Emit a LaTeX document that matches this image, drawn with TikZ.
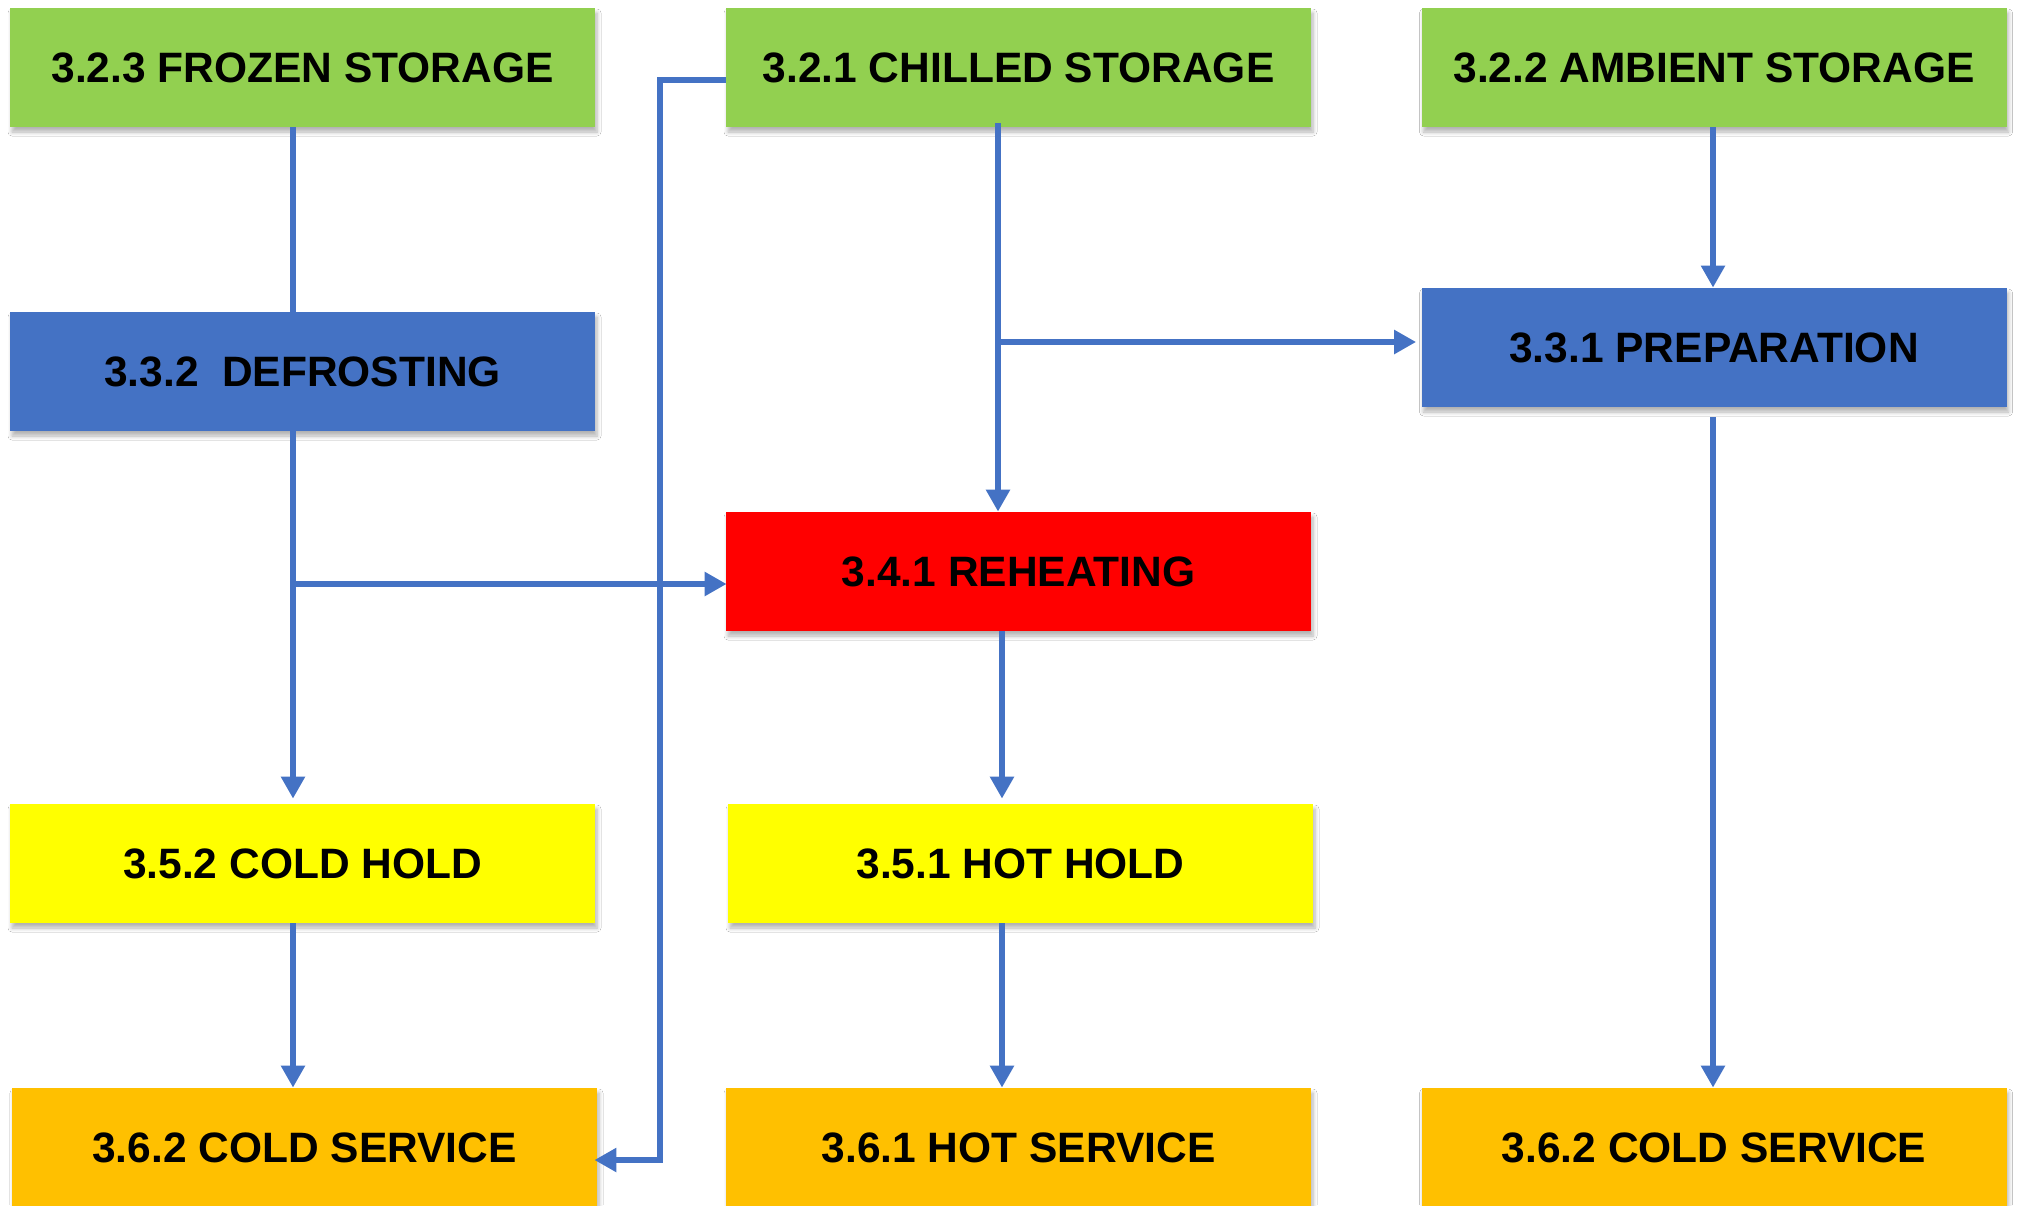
\documentclass[tikz,border=0pt]{standalone}
\usepackage{fontspec}
\setmainfont{Liberation Sans}
\usetikzlibrary{arrows.meta,shadows.blur,calc}
\definecolor{cgreen}{HTML}{92D050}
\definecolor{cblue}{HTML}{4472C4}
\definecolor{cred}{HTML}{FF0000}
\definecolor{cyellow}{HTML}{FFFF00}
\definecolor{corange}{HTML}{FFC000}
\definecolor{cline}{HTML}{4472C4}
\tikzset{
  box/.style={rectangle, inner sep=0pt, minimum width=292.5pt, minimum height=59.5pt,
    font=\fontsize{21.25}{25}\selectfont\bfseries, text=black,
    blur shadow={shadow xshift=1pt, shadow yshift=-2.5pt, shadow blur radius=2pt, shadow blur steps=6, shadow opacity=30}},
  greenbox/.style={box, fill=cgreen},
  bluebox/.style={box, fill=cblue},
  redbox/.style={box, fill=cred},
  yellowbox/.style={box, fill=cyellow},
  orangebox/.style={box, fill=corange},
  conn/.style={draw=cline, line width=3.4pt},
  arr/.style={conn, -{Triangle[length=11pt,width=11.5pt]}},
}
\begin{document}
\begin{tikzpicture}[x=0.5pt,y=-0.5pt]
\useasboundingbox (0,0) rectangle (2017,1205);
\clip (0,0) rectangle (2017,1205);
\fill[white] (0,0) rectangle (2017,1205);
% nodes
\node[greenbox] (frozen) at (302.5,67.5) {3.2.3 FROZEN STORAGE};
\node[greenbox] (chilled) at (1018.5,67.5) {3.2.1 CHILLED STORAGE};
\node[greenbox] (ambient) at (1714,67.5) {3.2.2 AMBIENT STORAGE};
\node[bluebox] (defrost) at (302.5,371.5) {3.3.2\ \ DEFROSTING};
\node[bluebox] (prep) at (1714,347.5) {3.3.1 PREPARATION};
\node[redbox] (reheat) at (1018.5,571.5) {3.4.1 REHEATING};
\node[yellowbox] (coldhold) at (302.5,863.5) {3.5.2 COLD HOLD};
\node[yellowbox] (hothold) at (1020.5,863.5) {3.5.1 HOT HOLD};
\node[orangebox] (coldservL) at (304.5,1147.5) {3.6.2 COLD SERVICE};
\node[orangebox] (hotserv) at (1018.5,1147.5) {3.6.1 HOT SERVICE};
\node[orangebox] (coldservR) at (1714,1147.5) {3.6.2 COLD SERVICE};
% column coordinates
\coordinate (cL) at (293,0);
\coordinate (cM) at (998,0);
\coordinate (cM2) at (1002,0);
\coordinate (cR) at (1713,0);
\coordinate (bL) at (293,584);
\coordinate (bM) at (998,342);
\coordinate (elbowTop) at (660,80);
\coordinate (elbowBot) at (660,1160);
% connectors
\draw[conn] (frozen.south -| cL) -- (defrost.north -| cL);
\draw[arr] (defrost.south -| cL) -- ([yshift=2.5pt]coldhold.north -| cL);
\draw[arr] (bL) -- ([xshift=0.5pt]bL -| reheat.west);
\draw[arr] (coldhold.south -| cL) -- (coldservL.north -| cL);
\draw[arr] (chilled.west |- elbowTop) -- (elbowTop) -- (elbowBot) -- ([xshift=-1.5pt]elbowBot -| coldservL.east);
\draw[arr] ([yshift=2pt]chilled.south -| cM) -- (reheat.north -| cM);
\draw[arr] (bM) -- ([xshift=-2.5pt]bM -| prep.west);
\draw[arr] (ambient.south -| cR) -- (prep.north -| cR);
\draw[arr] ([yshift=-5pt]prep.south -| cR) -- (coldservR.north -| cR);
\draw[arr] (reheat.south -| cM2) -- ([yshift=2.5pt]hothold.north -| cM2);
\draw[arr] (hothold.south -| cM2) -- (hotserv.north -| cM2);
\end{tikzpicture}
\end{document}
